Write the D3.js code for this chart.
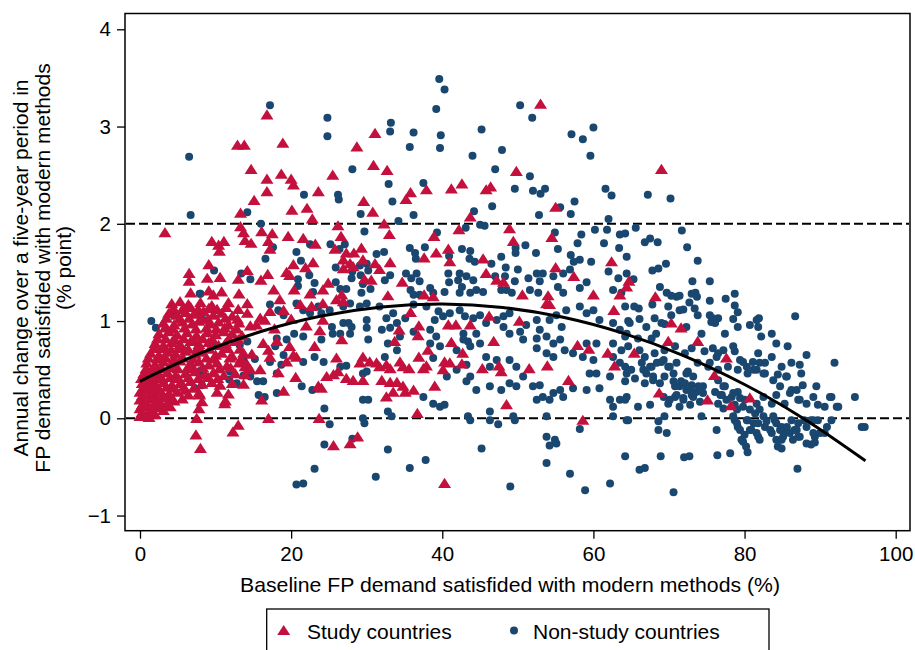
<!DOCTYPE html>
<html>
<head>
<meta charset="utf-8">
<script src="https://cdn.jsdelivr.net/npm/d3@7"></script>
<style>
  html, body { margin: 0; padding: 0; background: #fff; }
  svg { display: block; font-family: "Liberation Sans", Arial, Helvetica, sans-serif; }
</style>
</head>
<body>
<svg id="chart" width="915" height="650"></svg>
<script>
// ---------------- DATA ----------------
const xTicks = [0, 20, 40, 60, 80, 100];
const yTicks = [-1, 0, 1, 2, 3, 4];
const yTickLabels = ["\u22121", "0", "1", "2", "3", "4"];
const refLines = [0, 2];
const xTitle = "Baseline FP demand satisfided with modern methods (%)";
const yTitleLines = ["Annual change over a five-year period in", "FP demand satisfided with modern methods", "(% point)"];
const legendLabels = ["Study countries", "Non-study countries"];

// fitted (quadratic) line
const fitX = [0, 8, 16, 24, 32, 40, 48, 56, 64, 72, 80, 88, 96];
const fitY = [0.38, 0.669, 0.892, 1.051, 1.145, 1.175, 1.139, 1.039, 0.873, 0.643, 0.348, -0.012, -0.437];

// Study countries (red triangles): [baseline %, annual change]
const studyPoints = [
[16.8,3.12],[12.9,2.81],[13.8,2.81],[18.9,2.83],[31.1,2.93],[28.7,2.79],[14.7,2.56],[16.8,2.46],[18.7,2.51],[20.0,2.46],[20.3,2.40],[16.8,2.33],[25.5,2.50],[30.9,2.60],[23.6,2.33],[15.1,2.24],[29.6,2.23],[20.1,2.14],[22.1,2.16],[22.8,2.05],[13.3,2.11],[30.8,2.12],[3.3,1.91],[13.3,1.97],[13.7,1.91],[13.9,1.83],[16.1,1.92],[17.5,1.90],[17.0,1.82],[17.2,1.74],[14.7,1.80],[19.6,1.87],[21.6,1.85],[23.2,1.79],[26.2,1.98],[26.6,1.87],[25.8,1.74],[9.5,1.82],[10.4,1.78],[11.1,1.82],[10.5,1.72],[29.3,1.75],[27.3,1.70],[28.3,1.70],[29.5,1.63],[26.9,1.63],[31.1,1.59],[9.1,1.58],[6.5,1.49],[6.5,1.41],[8.9,1.44],[10.6,1.45],[14.2,1.52],[16.9,1.48],[19.4,1.50],[20.3,1.58],[19.8,1.47],[22.9,1.60],[21.9,1.55],[26.9,1.54],[27.8,1.59],[28.2,1.56],[13.0,1.43],[16.0,1.42],[29.7,1.43],[30.6,1.42],[17.7,1.32],[20.4,1.32],[24.9,1.39],[24.2,1.32],[22.5,1.28],[26.7,1.27],
[6.7,1.29],[9.1,1.31],[9.7,1.27],[10.8,1.30],[13.1,1.28],
[4.2,1.18],[5.3,1.20],[6.4,1.17],[8.0,1.19],[9.5,1.16],[11.7,1.19],[14.2,1.18],
[4.4,1.13],[5.6,1.12],[6.7,1.14],[7.7,1.12],[9.1,1.13],[10.2,1.12],[11.4,1.14],[13.0,1.12],
[3.8,1.08],[4.9,1.06],[6.0,1.09],[7.1,1.07],[8.4,1.10],[9.7,1.06],[10.8,1.08],[12.2,1.05],[14.2,1.08],
[3.5,1.03],[5.2,1.02],[6.5,1.03],[8.1,1.03],[9.0,1.02],[11.3,1.03],[12.9,1.02],
[3.1,0.98],[4.5,0.96],[5.6,0.99],[6.9,0.97],[7.8,1.00],[9.3,0.97],[10.4,0.99],[11.7,0.96],[13.1,0.98],[14.6,0.95],
[3.3,0.93],[4.3,0.92],[5.9,0.93],[7.4,0.92],[8.8,0.93],[10.1,0.92],[11.2,0.93],[12.8,0.92],
[2.5,0.87],[3.8,0.89],[4.9,0.86],[6.2,0.88],[7.5,0.85],[8.9,0.88],[10.0,0.86],[11.1,0.89],[12.2,0.87],[13.5,0.85],
[2.3,0.82],[3.4,0.82],[4.6,0.81],[5.8,0.82],[7.1,0.81],[8.3,0.82],[9.6,0.81],[11.8,0.82],[13.0,0.81],
[2.0,0.77],[3.1,0.75],[4.2,0.78],[5.3,0.76],[6.7,0.79],[7.8,0.76],[9.1,0.78],[10.4,0.75],[11.3,0.77],[12.6,0.79],
[1.9,0.72],[3.0,0.72],[4.1,0.71],[5.2,0.72],[6.4,0.71],[7.6,0.72],[9.2,0.71],[11.6,0.72],[13.2,0.71],
[1.4,0.67],[2.5,0.65],[3.6,0.68],[4.7,0.66],[6.0,0.69],[7.3,0.66],[8.2,0.68],[10.0,0.65],[10.8,0.67],[12.2,0.64],[13.7,0.67],[14.8,0.66],
[1.1,0.62],[2.3,0.61],[3.4,0.62],[4.5,0.61],[5.7,0.62],[7.0,0.61],[8.8,0.62],[9.8,0.61],[11.9,0.62],[13.4,0.61],
[0.9,0.57],[2.0,0.55],[3.1,0.58],[4.2,0.56],[5.3,0.59],[6.7,0.56],[7.8,0.58],[9.1,0.55],[10.2,0.57],[11.5,0.54],[13.1,0.57],[14.2,0.55],
[0.8,0.51],[1.8,0.52],[2.9,0.51],[4.0,0.52],[5.0,0.51],[6.3,0.52],[7.0,0.51],[8.3,0.52],[10.5,0.51],[12.0,0.52],
[0.5,0.46],[1.4,0.48],[2.5,0.45],[3.6,0.47],[4.7,0.44],[6.0,0.46],[7.3,0.48],[8.6,0.45],[9.7,0.47],[11.1,0.44],[12.6,0.46],[13.9,0.45],
[0.2,0.41],[0.9,0.41],[1.9,0.42],[2.9,0.41],[4.0,0.42],[5.1,0.41],[6.4,0.42],[7.7,0.41],[9.0,0.42],[10.3,0.41],
[0.3,0.36],[1.2,0.38],[2.0,0.35],[3.1,0.37],[4.2,0.34],[5.3,0.36],[6.7,0.38],[8.2,0.35],[9.5,0.37],[10.6,0.34],[12.2,0.36],[13.7,0.35],
[0.4,0.31],[1.5,0.32],[2.4,0.31],[3.5,0.32],[4.5,0.31],[5.8,0.32],[7.1,0.31],
[0.0,0.27],[0.9,0.29],[1.8,0.26],[2.7,0.28],[3.8,0.25],[4.9,0.27],[6.0,0.29],[7.8,0.26],[10.2,0.27],[11.7,0.25],
[0.3,0.23],[1.3,0.23],[2.1,0.22],[3.0,0.23],[4.1,0.22],
[0.0,0.19],[0.7,0.17],[1.6,0.20],[2.5,0.18],[3.3,0.21],[4.5,0.18],[5.6,0.20],[8.2,0.17],[11.3,0.18],
[0.3,0.14],[1.0,0.14],[1.9,0.15],[2.7,0.14],[3.6,0.15],
[0.0,0.10],[0.5,0.12],[1.4,0.09],[2.2,0.11],[3.1,0.08],[4.0,0.12],[7.8,0.10],
[0.0,0.02],[0.5,0.03],[1.2,0.01],[2.0,0.04],[7.5,0.0],
[0.3,0.06],[1.0,0.32],[0.6,0.22],[1.1,0.05],
[7.4,-0.17],[8.0,-0.31],[12.3,-0.14],[13.0,-0.07],[11.2,0.15],[6.4,0.24],[7.9,0.24],[17.0,0.0],[16.1,0.19],[19.0,0.28],[18.3,0.47],[20.6,0.42],[19.4,0.58],[20.7,0.63],[23.1,0.74],[23.8,0.90],[24.2,1.01],[26.7,0.81],[26.0,0.62],[23.6,0.33],[24.0,0.31],[23.7,0.0],[25.6,-0.28],[27.8,-0.26],[28.8,-0.19],[24.7,0.43],[25.6,0.45],[26.2,0.48],[27.3,0.41],[28.2,0.39],[29.5,0.39],[29.1,0.57],[30.4,0.58],[31.3,0.57],[29.5,0.63],[18.1,0.79],[17.0,0.70],[16.3,0.77],[17.2,0.63],[19.8,0.74],[20.3,0.65],[15.9,0.50],[13.9,0.53],[14.6,0.50],[15.9,1.03],[15.4,0.96],[16.5,1.01],[17.2,1.10],[19.0,1.11],[21.2,1.17],[22.7,1.15],[24.2,1.18],[26.0,1.22],[26.9,1.20],[18.5,1.22],[20.0,1.02],[22.0,0.95],[17.8,0.92],
[53.0,3.23],[32.7,2.55],[49.8,2.54],[35.8,2.32],[35.2,2.25],[37.9,2.35],[41.2,2.36],[42.6,2.41],[45.8,2.35],[46.4,2.38],[55.0,2.17],[43.7,2.07],[32.3,2.00],[33.0,1.89],[42.2,1.94],[38.9,1.87],[48.9,1.95],[49.4,1.82],[54.5,1.86],[40.8,1.74],[39.2,1.70],[37.6,1.65],[41.0,1.61],[33.1,1.60],[45.4,1.64],[45.8,1.49],[55.0,1.55],[57.4,1.46],[62.4,1.61],[31.7,1.53],[34.7,1.40],[47.2,1.42],[48.1,1.40],[32.8,1.26],[37.6,1.27],[38.8,1.25],[50.6,1.27],[54.0,1.26],[60.0,1.27],[63.5,1.27],[64.4,1.35],
[35.8,1.09],[34.3,0.91],[36.9,0.95],[36.8,0.85],[33.7,0.79],[40.8,0.96],[41.8,0.96],[43.7,0.96],[46.2,1.05],[50.2,1.00],[46.8,0.79],[41.2,0.78],[38.1,0.70],[36.9,0.63],[42.7,0.67],[37.9,0.54],[37.5,0.51],[40.3,0.58],[41.0,0.57],[40.1,0.50],[42.6,0.56],[35.6,0.51],[34.8,0.53],[34.4,0.58],[32.6,0.55],[33.1,0.51],[31.7,0.53],[32.0,0.39],[33.1,0.37],[34.0,0.37],[34.8,0.33],[33.5,0.27],[32.6,0.22],[35.1,0.27],[36.2,0.29],[39.0,0.33],[36.7,0.05],[45.3,0.51],[47.5,0.54],[47.8,0.48],[51.5,0.51],[53.9,0.54],[48.5,0.14],[56.7,0.39],[57.9,0.75],[59.4,0.71],[61.9,0.67],[62.8,0.54],[62.7,1.11],[53.8,1.18],[54.2,1.17],[58.6,-0.02],[40.3,-0.67],
[69.0,2.56],[64.7,1.41],[68.2,1.25],[70.3,0.98],[71.6,0.93],[69.9,0.79],[73.8,0.79],[65.4,0.67],[77.6,0.62],[76.0,0.44],[68.7,0.26],[75.1,0.19],[78.2,0.13],[80.7,0.21]
];

// Non-study countries (navy dots): [baseline %, annual change]
const nonStudyPoints = [
[17.2,3.22],[24.8,3.09],[24.8,2.90],[6.5,2.69],[28.1,2.56],[21.7,2.30],[26.2,2.30],[26.3,2.25],[6.7,2.09],[14.2,2.12],[29.2,2.10],[16.0,2.00],[29.7,1.92],[17.6,1.76],[16.6,1.64],[20.7,1.71],[21.3,1.62],[22.5,1.79],[25.2,1.79],[26.4,1.74],[27.1,1.79],[31.3,1.69],[9.8,1.52],[13.4,1.49],[14.6,1.43],[22.4,1.47],[20.9,1.43],[20.9,1.36],[23.1,1.39],[25.9,1.55],[28.1,1.51],[28.0,1.44],[29.1,1.57],[30.0,1.59],[30.2,1.52],[29.2,1.47],[25.9,1.40],[26.5,1.33],[27.3,1.33],[29.5,1.38],[29.3,1.29],[30.5,1.33],[7.9,1.28],[22.9,1.30],
[1.5,1.00],[2.1,0.93],[4.4,1.06],[8.0,1.06],[7.3,0.31],[8.2,0.45],[11.9,0.48],[11.8,0.40],[13.2,0.75],[14.2,0.79],[13.7,0.60],[15.2,0.61],[13.7,0.44],[14.6,0.43],[12.8,0.36],[16.3,0.38],[16.5,0.22],[17.2,1.17],[18.3,1.11],[18.1,0.82],[17.9,0.74],[19.4,0.81],[19.0,0.65],[18.7,0.55],[20.4,0.87],[21.6,0.84],[20.7,1.18],[21.6,1.11],[22.5,1.08],[23.6,1.15],[24.0,1.08],[25.1,1.11],[21.6,0.58],[21.4,0.33],[23.1,0.63],[24.3,0.58],[24.0,0.81],[22.8,0.29],[18.1,0.26],[24.4,0.10],[25.1,-0.06],[24.4,-0.27],[23.1,-0.52],[20.7,-0.68],[21.6,-0.67],[25.4,0.94],[26.9,0.98],[27.6,0.98],[25.5,0.87],[26.5,0.87],[27.8,0.87],[28.0,0.94],[26.9,1.15],[27.8,1.18],[29.1,1.15],[30.0,1.18],[30.0,1.01],[30.0,0.93],[30.2,0.81],[26.5,0.53],[27.3,0.54],[29.5,0.46],[30.0,0.48],[29.5,0.19],[30.2,0.19],[29.5,0.0],[29.7,-0.05],[28.1,-0.21],[31.2,-0.60],[17.2,0.58],[18.1,0.46],[19.0,1.06],[8.0,1.28],[9.7,0.74],[8.2,0.34],[8.0,0.49],[15.5,0.38],[15.7,0.24],[8.4,1.01],
[39.6,3.49],[40.3,3.38],[39.2,3.18],[39.8,2.91],[39.7,2.78],[33.2,3.04],[33.1,2.95],[36.2,2.94],[35.7,2.79],[45.2,2.97],[47.9,2.76],[44.0,2.70],[50.3,3.22],[51.9,3.09],[57.1,2.92],[58.6,2.87],[60.0,2.99],[59.6,2.70],[47.0,2.56],[51.6,2.49],[52.0,2.34],[53.0,2.31],[53.6,2.36],[49.6,2.36],[46.6,2.18],[44.2,2.13],[32.9,2.41],[33.4,2.23],[37.5,2.42],[36.2,2.09],[34.2,2.03],[52.8,2.09],[55.6,2.17],[57.0,2.10],[57.5,2.23],[61.6,2.36],[62.4,2.29],[62.0,2.05],[45.0,1.99],[45.6,1.98],[43.1,1.96],[39.3,1.91],[32.3,1.71],[35.7,1.75],[36.4,1.70],[36.5,1.64],[37.7,1.76],[42.6,1.74],[43.7,1.72],[43.6,1.64],[44.3,1.61],[47.8,1.66],[49.7,1.75],[49.7,1.70],[51.0,1.78],[52.4,1.70],[54.9,1.91],[55.3,1.74],[58.4,1.89],[57.9,1.80],[60.2,1.94],[61.8,1.94],[61.4,1.80],[63.5,1.89],[64.2,1.90],[63.4,1.75],[57.0,1.68],[58.2,1.63],[57.4,1.61],[59.7,1.61],[64.4,1.66],
[32.4,1.42],[33.1,1.47],[35.2,1.49],[35.9,1.44],[36.6,1.49],[37.0,1.41],[35.8,1.32],[36.2,1.27],[38.4,1.34],[40.3,1.30],[40.8,1.49],[40.9,1.40],[42.3,1.49],[42.1,1.42],[42.6,1.35],[42.3,1.29],[43.2,1.46],[44.1,1.42],[44.5,1.32],[46.5,1.59],[47.0,1.46],[48.4,1.55],[48.3,1.46],[49.6,1.41],[48.5,1.32],[50.0,1.53],[51.4,1.44],[52.5,1.49],[53.3,1.49],[52.9,1.41],[51.6,1.32],[52.7,1.29],[54.7,1.46],[56.0,1.49],[55.3,1.35],[56.0,1.29],[56.9,1.53],[58.2,1.34],[59.1,1.40],[62.0,1.51],[63.3,1.44],[64.4,1.49],[62.6,1.32],[63.7,1.29],[37.0,1.27],[38.8,1.29],[43.7,1.29],[45.4,1.30],[47.8,1.32],[49.2,1.29],[40.9,1.67],
[31.7,1.15],[33.5,1.08],[32.6,1.03],[32.0,0.91],[33.1,0.93],[34.0,0.98],[35.1,1.03],[34.4,0.84],[32.8,0.77],[34.0,0.70],[32.4,0.63],
[36.2,1.17],[37.9,1.15],[39.5,1.10],[39.0,1.01],[40.1,1.05],[41.0,1.08],[42.3,1.11],[43.0,1.05],[44.1,1.03],[45.0,1.06],[45.8,0.98],[47.2,1.01],[48.1,1.05],[48.9,1.08],
[36.2,0.89],[38.4,0.91],[39.2,0.84],[42.8,0.87],[43.4,0.79],[44.5,0.87],[45.0,0.77],[48.1,0.94],[48.9,0.87],[50.3,0.89],[51.1,0.96],[52.5,1.01],[52.9,0.91],[54.2,1.01],[55.1,1.06],[55.8,0.94],[56.4,1.11],[58.2,1.15],[59.1,1.08],[60.0,1.11],[60.8,1.01],[62.6,0.98],[63.5,0.91],[64.4,0.87],
[50.7,0.81],[52.5,0.82],[53.8,0.84],[54.7,0.77],[55.6,0.81],[56.2,0.70],[52.5,0.72],[53.8,0.67],[54.7,0.63],[57.3,0.67],[59.1,0.77],[60.4,0.77],[62.6,0.77],[63.7,0.70],[58.6,0.63],[60.0,0.60],[60.4,0.46],[62.6,0.63],[63.5,0.57],[64.4,0.46],[59.5,0.46],[62.2,0.43],
[42.8,0.81],[43.7,0.74],[41.9,0.70],[39.7,0.74],[38.4,0.77],[38.8,0.62],[43.2,0.55],[41.9,0.50],[43.7,0.43],[45.8,0.63],[46.3,0.53],[47.2,0.60],[48.9,0.60],[49.8,0.53],[50.7,0.43],[49.8,0.33],[48.9,0.36],[46.3,0.33],[44.5,0.29],[47.8,0.29],[43.2,0.38],[40.6,0.43],
[52.0,0.33],[52.9,0.34],[52.5,0.19],[53.3,0.22],[54.2,0.19],[54.7,0.26],[55.6,0.29],[56.0,0.22],[57.3,0.31],[59.1,0.29],[60.8,0.31],[62.2,0.19],[63.5,0.19],[64.4,0.22],[62.6,0.12],
[37.5,0.22],[38.8,0.15],[39.7,0.12],[40.3,0.14],[32.8,0.07],[33.3,0.02],
[43.4,0.02],[43.7,-0.02],[46.3,-0.02],[47.4,-0.06],[49.4,0.02],[49.6,-0.02],[53.8,0.02],[46.3,0.07],
[53.8,-0.19],[54.9,-0.22],[54.2,-0.28],[55.1,-0.26],[32.8,-0.32],[45.2,-0.31],[37.8,-0.43],[35.7,-0.51],[53.8,-0.46],[56.9,-0.57],[49.0,-0.70],[62.2,-0.67],[58.9,-0.74],[58.2,-0.11],[64.4,-0.02],[64.2,-0.39],[62.6,0.02],
[67.2,2.30],[70.2,2.26],[65.6,1.96],[71.7,1.93],[67.5,1.85],[66.8,1.81],[68.5,1.81],[72.4,1.76],[73.8,1.62],[67.8,1.52],[68.6,1.54],[69.6,1.59],[65.3,1.43],[73.1,1.41],[75.4,1.41],[68.8,1.35],[69.7,1.29],[70.3,1.26],[71.0,1.25],[71.4,1.26],[73.0,1.28],[73.5,1.29],[73.7,1.25],[75.4,1.21],[77.5,1.23],[78.7,1.28],[78.7,1.16],[79.1,1.09],[72.7,1.19],[67.8,1.17],[69.9,1.15],[71.9,1.12],[71.4,1.11],[73.4,1.13],[73.8,1.06],[65.4,1.15],[66.0,1.13],[64.2,1.15],[70.3,1.06],[75.4,1.06],[75.8,1.03],[76.5,1.03],[76.1,0.99],[78.5,1.02],[81.9,1.03],[86.7,1.05],[64.6,1.00],[66.1,1.02],[68.1,1.03],[69.4,0.97],
[64.8,0.98],[67.0,0.94],[68.3,0.87],[65.9,0.82],[67.7,0.82],[64.2,0.84],[69.0,0.98],[72.3,0.94],[74.3,0.87],[76.1,0.98],[77.4,0.87],[79.1,0.94],[80.7,0.96],[81.8,0.94],[82.2,0.84],[81.6,1.01],[83.6,0.87],[84.2,0.77],[75.6,0.99],[85.7,0.74],[88.2,0.65],[91.9,0.57],
[64.6,0.74],[66.1,0.70],[66.8,0.63],[68.1,0.67],[69.4,0.70],[70.8,0.74],[72.1,0.67],[73.0,0.72],[74.7,0.69],[75.8,0.72],[76.5,0.67],[78.7,0.69],[79.8,0.58],[81.1,0.58],[81.8,0.67],[82.7,0.57],[83.6,0.63],[84.9,0.53],[86.2,0.57],[87.3,0.55],[64.2,0.53],[65.0,0.50],[66.4,0.57],[67.7,0.53],[69.0,0.58],[69.9,0.53],[71.0,0.57],[72.5,0.48],[73.8,0.57],[75.2,0.53],[76.5,0.50],[77.8,0.53],[79.1,0.50],[80.4,0.46],[81.6,0.50],[82.7,0.46],[84.4,0.45],[85.5,0.43],[87.5,0.46],
[64.2,0.38],[65.5,0.41],[66.8,0.36],[67.9,0.39],[69.4,0.43],[70.8,0.33],[71.6,0.38],[72.3,0.29],[73.0,0.34],[73.6,0.27],[74.5,0.33],[70.8,0.22],[71.9,0.19],[73.0,0.24],[76.1,0.27],[77.0,0.24],[76.5,0.15],[77.4,0.33],[78.3,0.22],[79.1,0.27],[80.0,0.19],[78.7,0.14],[81.6,0.15],[82.5,0.22],[83.6,0.15],[84.2,0.24],[85.3,0.15],[86.2,0.29],[87.1,0.19],[87.7,0.34],[89.5,0.33],[91.3,0.22],[92.4,0.12],[94.6,0.22],[89.7,0.14],[65.9,0.12],[67.5,0.14],[64.2,0.19],[69.9,0.15],
[64.6,-0.02],[68.6,-0.03],[69.4,0.02],[68.6,-0.12],[69.7,-0.15],[74.3,0.02],[78.7,-0.02],[79.1,-0.09],[80.4,-0.02],[80.9,-0.12],[81.8,-0.05],[82.7,-0.09],[84.0,-0.02],[84.9,-0.09],[85.3,-0.15],[86.2,-0.02],[86.6,-0.12],[87.1,-0.05],[87.9,-0.02],[88.8,-0.02],[89.7,-0.02],[91.5,-0.02],[90.6,-0.15],[89.3,-0.19],[87.1,-0.19],[95.5,-0.09],[95.9,-0.09],[79.6,-0.22],[80.0,-0.17],[81.8,-0.19],[84.9,-0.22],[83.6,-0.15],
[79.8,-0.24],[80.2,-0.29],[84.4,-0.29],[84.9,-0.31],[88.8,-0.27],[89.3,-0.25],
[68.9,-0.39],[72.0,-0.40],[72.7,-0.39],[76.4,-0.38],[78.1,-0.36],[80.4,-0.35],[66.1,-0.53],[66.8,-0.51],[87.0,-0.52],[70.6,-0.76],
[70.6,0.38],[71.4,0.33],[72.1,0.36],[72.8,0.29],[71.0,0.24],[71.9,0.21],[73.2,0.22],[73.9,0.33],[74.5,0.26],[74.1,0.17],[72.8,0.14],[71.4,0.12],[70.1,0.19],[69.3,0.22],[68.8,0.36],[67.9,0.43],[67.0,0.46],[67.5,0.53],[66.6,0.50],[68.4,0.57],[69.3,0.60],[70.1,0.53],[70.6,0.46],[72.3,0.46],[73.2,0.43],
[76.5,0.39],[77.2,0.33],[76.8,0.24],[77.6,0.19],[78.5,0.26],[79.4,0.21],[77.2,0.10],[79.0,0.09],[79.8,0.12],[80.7,0.09],[81.4,0.05],[82.0,0.09],[82.5,0.02],[82.9,-0.03],[83.8,0.02],[84.2,-0.05],[83.4,-0.12],[84.7,-0.12],[85.6,-0.09],[86.0,-0.15],[86.9,-0.12],[87.3,-0.19],[86.4,-0.22],[85.1,-0.19],[88.2,-0.09],[89.1,-0.15],[90.0,-0.15],[88.2,-0.26],
[78.5,0.02],[79.0,-0.05],[79.4,-0.12],[80.3,-0.02],[81.2,-0.05],[80.7,-0.12],[81.6,-0.15],[82.0,-0.22],[84.2,-0.22],[89.1,-0.02],[90.9,-0.09],[76.3,-0.12],
[75.4,0.57],[76.3,0.63],[77.2,0.70],[78.5,0.74],[79.4,0.60],[80.3,0.53],[81.2,0.50],[82.0,0.57],[82.5,0.46],[83.8,0.39],[84.7,0.33],[85.6,0.43],[86.0,0.26],[86.9,0.29],[87.3,0.19],[88.2,0.15],[89.1,0.22],[90.6,0.12],[91.5,0.22],[92.2,0.12]
];

// ---------------- CHART ----------------
const svg = d3.select("#chart");
const frame = { left: 125, right: 910, top: 13.5, bottom: 530.7 };
const x = d3.scaleLinear().domain([0, 100]).range([140, 895.7]);
const y = d3.scaleLinear().domain([0, 4]).range([418.3, 29.3]);

const red = "#c4103c";
const navy = "#1a476f";

// frame
svg.append("rect")
  .attr("x", frame.left).attr("y", frame.top)
  .attr("width", frame.right - frame.left).attr("height", frame.bottom - frame.top)
  .attr("fill", "none").attr("stroke", "#000").attr("stroke-width", 1.5);

// axes
const xAxis = d3.axisBottom(x).tickValues(xTicks).tickSize(8).tickPadding(8).tickFormat(d3.format("d"));
const gx = svg.append("g").attr("transform", `translate(0,${frame.bottom})`).call(xAxis);
gx.select(".domain").remove();
gx.selectAll("line").attr("stroke", "#000").attr("stroke-width", 1.3);
gx.selectAll("text").attr("font-size", 20.5).attr("fill", "#000")
  .attr("font-family", "'Liberation Sans', Arial, sans-serif");

const yAxis = d3.axisLeft(y).tickValues(yTicks).tickSize(8).tickPadding(6)
  .tickFormat(d => yTickLabels[yTicks.indexOf(d)]);
const gy = svg.append("g").attr("transform", `translate(${frame.left},0)`).call(yAxis);
gy.select(".domain").remove();
gy.selectAll("line").attr("stroke", "#000").attr("stroke-width", 1.3);
gy.selectAll("text").attr("font-size", 20.5).attr("fill", "#000")
  .attr("font-family", "'Liberation Sans', Arial, sans-serif");

// reference dashed lines
svg.append("g").selectAll("line").data(refLines).join("line")
  .attr("x1", frame.left + 1).attr("x2", frame.right - 1)
  .attr("y1", d => y(d)).attr("y2", d => y(d))
  .attr("stroke", "#000").attr("stroke-width", 2)
  .attr("stroke-dasharray", "9,4");

// triangle symbol path
const triPath = "M0,-5.6L6.5,4.6L-6.5,4.6Z";

// non-study dots
svg.append("g").selectAll("circle").data(nonStudyPoints).join("circle")
  .attr("cx", d => x(d[0])).attr("cy", d => y(d[1]))
  .attr("r", 4).attr("fill", navy);

// study triangles
svg.append("g").selectAll("path").data(studyPoints).join("path")
  .attr("d", triPath)
  .attr("transform", d => `translate(${x(d[0])},${y(d[1])})`)
  .attr("fill", red);

// fitted line
const fitData = fitX.map((v, i) => [v, fitY[i]]);
svg.append("path").datum(fitData)
  .attr("d", d3.line().x(d => x(d[0])).y(d => y(d[1])).curve(d3.curveNatural))
  .attr("fill", "none").attr("stroke", "#000").attr("stroke-width", 3);

// axis titles
svg.append("text")
  .attr("x", 510).attr("y", 592)
  .attr("text-anchor", "middle")
  .attr("font-size", 21)
  .attr("textLength", 540).attr("lengthAdjust", "spacingAndGlyphs")
  .text(xTitle);

const yTitle = svg.append("g").attr("transform", "translate(0,268) rotate(-90)");
const baselines = [27.5, 49.5, 71];
yTitleLines.forEach((t, i) => {
  yTitle.append("text")
    .attr("x", 0).attr("y", baselines[i])
    .attr("text-anchor", "middle")
    .attr("font-size", 21)
    .text(t);
});

// legend
const lg = svg.append("g");
lg.append("rect").attr("x", 266.7).attr("y", 609).attr("width", 769 - 266.7).attr("height", 60)
  .attr("fill", "#fff").attr("stroke", "#000").attr("stroke-width", 1.3);
lg.append("path").attr("d", triPath).attr("transform", "translate(283.7,630.5)").attr("fill", red);
lg.append("text").attr("x", 307).attr("y", 639).attr("font-size", 21).text(legendLabels[0]);
lg.append("circle").attr("cx", 514).attr("cy", 630.5).attr("r", 4).attr("fill", navy);
lg.append("text").attr("x", 533).attr("y", 639).attr("font-size", 21).text(legendLabels[1]);
</script>
</body>
</html>
